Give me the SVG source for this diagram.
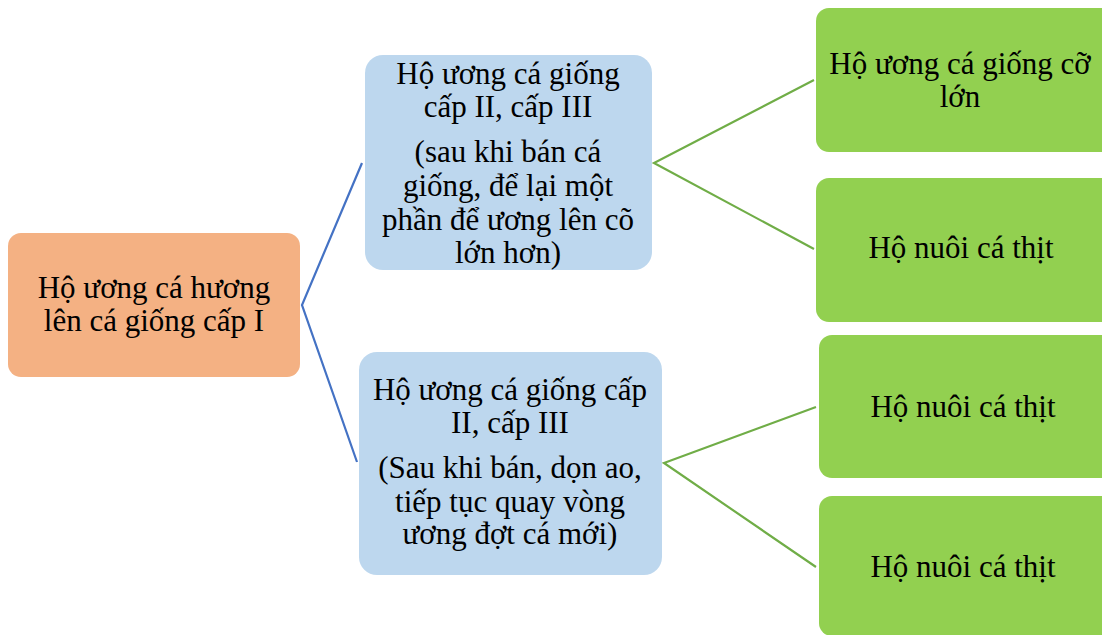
<svg xmlns="http://www.w3.org/2000/svg" width="1102" height="635" viewBox="0 0 1102 635">
<style>
.t{font-family:'Liberation Serif','Times New Roman','DejaVu Serif',serif;font-size:31px;fill:#000;text-anchor:middle}
.or{fill:#F4B183}.bl{fill:#BDD7EE}.gr{fill:#92D050}
.cb{stroke:#4472C4;stroke-width:2.2;fill:none}.cg{stroke:#70AD47;stroke-width:2.2;fill:none}
</style>
<rect width="1102" height="635" fill="#fff"/>
<g id="connectors">
<polyline class="cb" points="362,163 302,305 357,462"/>
<polyline class="cg" points="814,80 654,163 814,249"/>
<polyline class="cg" points="816,407 664,463 816,567"/>
</g>
<g class="t">
<g id="n1"><rect class="or" x="8" y="233" width="292" height="144" rx="13"/>
<text x="154" y="298">Hộ ương cá hương</text><text x="154" y="331">lên cá giống cấp I</text></g>
<g id="n2"><rect class="bl" x="365" y="55" width="287" height="215" rx="18"/>
<text x="508" y="84">Hộ ương cá giống</text><text x="508" y="117">cấp II, cấp III</text>
<text x="508" y="162">(sau khi bán cá</text><text x="508" y="196">giống, để lại một</text>
<text x="508" y="230">phần để ương lên cõ</text><text x="508" y="263">lớn hơn)</text></g>
<g id="n3"><rect class="bl" x="359" y="352" width="303" height="223" rx="18"/>
<text x="510" y="400">Hộ ương cá giống cấp</text><text x="510" y="433">II, cấp III</text>
<text x="510" y="478">(Sau khi bán, dọn ao,</text><text x="510" y="512">tiếp tục quay vòng</text>
<text x="510" y="544">ương đợt cá mới)</text></g>
<g id="n4"><rect class="gr" x="816" y="8" width="300" height="144" rx="13"/>
<text x="960" y="74">Hộ ương cá giống cỡ</text><text x="960" y="107">lớn</text></g>
<g id="n5"><rect class="gr" x="816" y="178" width="300" height="144" rx="13"/>
<text x="961" y="258">Hộ nuôi cá thịt</text></g>
<g id="n6"><rect class="gr" x="819" y="335" width="300" height="143" rx="13"/>
<text x="963" y="417">Hộ nuôi cá thịt</text></g>
<g id="n7"><rect class="gr" x="819" y="496" width="300" height="140" rx="13"/>
<text x="963" y="577">Hộ nuôi cá thịt</text></g>
</g>
</svg>
